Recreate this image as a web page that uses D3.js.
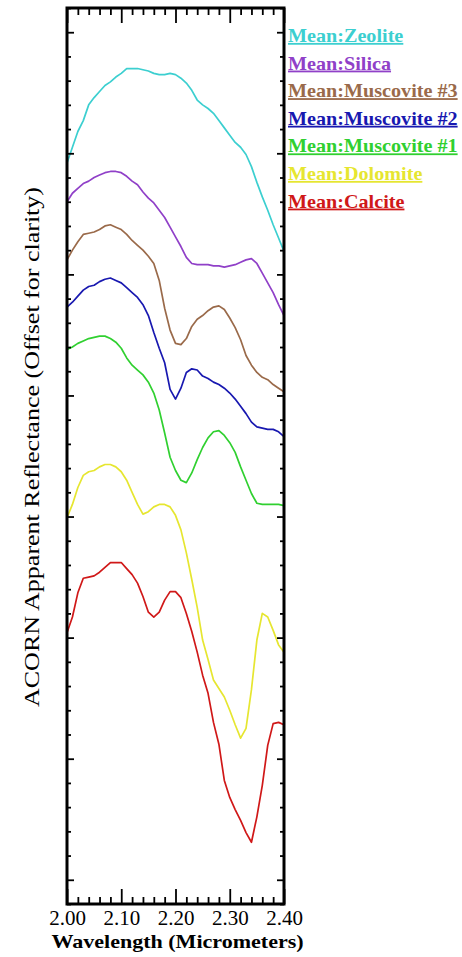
<!DOCTYPE html>
<html>
<head>
<meta charset="utf-8">
<script src="https://cdn.jsdelivr.net/npm/d3@7"></script>
<style>
  html, body { margin: 0; padding: 0; background: #fff; }
  svg { display: block; }
</style>
</head>
<body>
<svg id="chart" width="462" height="957"></svg>
<script>
// ---------------- data ----------------
const wavelengths = [2.00, 2.01, 2.02, 2.03, 2.04, 2.05, 2.06, 2.07, 2.08, 2.09,
  2.10, 2.11, 2.12, 2.13, 2.14, 2.15, 2.16, 2.17, 2.18, 2.19,
  2.20, 2.21, 2.22, 2.23, 2.24, 2.25, 2.26, 2.27, 2.28, 2.29,
  2.30, 2.31, 2.32, 2.33, 2.34, 2.35, 2.36, 2.37, 2.38, 2.39, 2.40];

const seriesNames = ["Mean:Zeolite", "Mean:Silica", "Mean:Muscovite #3", "Mean:Muscovite #2",
  "Mean:Muscovite #1", "Mean:Dolomite", "Mean:Calcite"];
const seriesColors = ["#3ccfd0", "#9040c8", "#9a6a4a", "#1818b0", "#30d030", "#e6e630", "#d01818"];

// apparent reflectance (offset for clarity), percent
const zeolite = [59.2, 60.5, 61.8, 62.7, 64.0, 64.6, 65.1, 65.6, 65.9, 66.3,
  66.6, 67.0, 67.0, 67.0, 66.9, 66.8, 66.6, 66.5, 66.5, 66.6,
  66.5, 66.2, 65.8, 65.2, 64.4, 64.0, 63.7, 63.3, 62.7, 62.1,
  61.5, 60.9, 60.5, 59.9, 58.9, 57.6, 56.4, 55.3, 54.1, 53.0, 51.9];
const silica = [56.0, 56.7, 57.1, 57.5, 57.7, 58.0, 58.2, 58.4, 58.5, 58.5,
  58.4, 58.1, 57.7, 57.4, 56.8, 56.3, 55.9, 55.3, 54.7, 53.9,
  53.1, 52.3, 51.4, 50.9, 50.8, 50.8, 50.8, 50.7, 50.7, 50.6,
  50.7, 50.8, 51.0, 51.2, 51.3, 50.9, 50.1, 49.3, 48.5, 47.5, 46.6];
const muscovite3 = [51.2, 52.0, 52.7, 53.3, 53.4, 53.5, 53.7, 54.0, 54.1, 53.9,
  53.7, 53.3, 52.8, 52.4, 52.0, 51.5, 50.9, 49.5, 47.2, 45.4,
  44.3, 44.2, 44.7, 45.7, 46.3, 46.6, 47.0, 47.3, 47.4, 47.1,
  46.4, 45.6, 44.6, 43.3, 42.5, 41.9, 41.5, 41.3, 40.9, 40.6, 40.3];
const muscovite2 = [47.3, 47.7, 48.2, 48.7, 49.0, 49.1, 49.4, 49.6, 49.7, 49.5,
  49.3, 48.9, 48.5, 48.1, 47.5, 46.6, 45.2, 43.9, 42.7, 40.5,
  39.7, 40.6, 41.9, 42.2, 42.1, 41.6, 41.4, 41.1, 40.9, 40.6,
  40.2, 39.7, 39.1, 38.5, 37.8, 37.4, 37.3, 37.2, 37.2, 37.0, 36.6];
const muscovite1 = [43.8, 44.0, 44.3, 44.5, 44.7, 44.8, 44.9, 44.9, 44.7, 44.4,
  43.9, 43.1, 42.5, 42.1, 41.7, 41.1, 40.2, 38.8, 36.9, 34.9,
  33.8, 33.0, 32.8, 33.6, 34.7, 35.7, 36.5, 37.0, 37.1, 36.7,
  36.1, 35.3, 34.1, 33.0, 31.9, 31.1, 31.0, 31.0, 31.0, 31.0, 30.9];
const dolomite = [29.9, 31.0, 32.4, 33.4, 33.7, 33.8, 34.1, 34.3, 34.3, 34.1,
  33.7, 33.0, 32.0, 31.0, 30.2, 30.4, 30.8, 31.0, 31.0, 30.8,
  30.1, 28.9, 27.0, 24.8, 22.5, 19.8, 18.2, 16.5, 15.8, 15.1,
  14.0, 12.8, 11.7, 12.5, 15.7, 19.8, 22.0, 21.7, 20.6, 19.4, 18.8];
const calcite = [20.4, 21.7, 23.7, 24.9, 25.0, 25.1, 25.4, 25.8, 26.2, 26.2,
  26.2, 25.7, 25.2, 24.5, 23.4, 22.1, 21.7, 22.1, 23.1, 23.8,
  23.8, 23.3, 22.0, 20.5, 18.8, 16.9, 15.4, 13.0, 11.2, 8.2,
  6.8, 5.8, 4.9, 3.9, 3.1, 5.2, 7.8, 11.1, 12.9, 13.0, 12.8];

const xMajorTicks = [2.00, 2.10, 2.20, 2.30, 2.40];
const xMajorLabels = ["2.00", "2.10", "2.20", "2.30", "2.40"];
const xMinorTicks = [2.02, 2.04, 2.06, 2.08, 2.12, 2.14, 2.16, 2.18, 2.22, 2.24, 2.26, 2.28,
  2.32, 2.34, 2.36, 2.38];
const yMajorTicks = [0, 10, 20, 30, 40, 50, 60, 70];
const yMinorTicks = [-2, 2, 4, 6, 8, 12, 14, 16, 18, 22, 24, 26, 28, 32, 34, 36, 38,
  42, 44, 46, 48, 52, 54, 56, 58, 62, 64, 66, 68, 72];

const seriesValues = [zeolite, silica, muscovite3, muscovite2, muscovite1, dolomite, calcite];

// ---------------- layout ----------------
const svg = d3.select("#chart");
const plot = { left: 67, right: 284, top: 8, bottom: 904 };
const serif = "'Liberation Serif', 'Times New Roman', serif";

const x = d3.scaleLinear().domain([2.0, 2.4]).range([plot.left, plot.right]);
const y = d3.scaleLinear().domain([-2, 72]).range([plot.bottom, plot.top]);

svg.append("rect").attr("width", 462).attr("height", 957).attr("fill", "#fff");

// curves
const line = d3.line()
  .x((d, i) => x(wavelengths[i]))
  .y(d => y(d));

svg.append("g").selectAll("path")
  .data(seriesValues)
  .join("path")
  .attr("d", d => line(d))
  .attr("fill", "none")
  .attr("stroke", (d, i) => seriesColors[i])
  .attr("stroke-width", 1.7)
  .attr("stroke-linejoin", "round");

// axes (ticks pointing inward)
function styleAxis(g) {
  g.select(".domain").remove();
  g.selectAll(".tick line").attr("stroke", "#000").attr("stroke-width", 1.8);
}

svg.append("g")
  .attr("transform", `translate(0,${plot.bottom})`)
  .call(d3.axisBottom(x).tickValues(xMajorTicks).tickFormat((d, i) => xMajorLabels[i])
    .tickSize(-15).tickPadding(6))
  .call(styleAxis)
  .call(g => g.selectAll("text")
    .attr("font-family", serif).attr("font-size", 21).attr("fill", "#000"));

svg.append("g")
  .attr("transform", `translate(0,${plot.bottom})`)
  .call(d3.axisBottom(x).tickValues(xMinorTicks).tickFormat("").tickSize(-7))
  .call(styleAxis);

svg.append("g")
  .attr("transform", `translate(0,${plot.top})`)
  .call(d3.axisTop(x).tickValues(xMajorTicks).tickFormat("").tickSize(-15))
  .call(styleAxis);

svg.append("g")
  .attr("transform", `translate(0,${plot.top})`)
  .call(d3.axisTop(x).tickValues(xMinorTicks).tickFormat("").tickSize(-7))
  .call(styleAxis);

svg.append("g")
  .attr("transform", `translate(${plot.left},0)`)
  .call(d3.axisLeft(y).tickValues(yMajorTicks).tickFormat("").tickSize(-7))
  .call(styleAxis);

svg.append("g")
  .attr("transform", `translate(${plot.left},0)`)
  .call(d3.axisLeft(y).tickValues(yMinorTicks).tickFormat("").tickSize(-4))
  .call(styleAxis);

svg.append("g")
  .attr("transform", `translate(${plot.right},0)`)
  .call(d3.axisRight(y).tickValues(yMajorTicks).tickFormat("").tickSize(-7))
  .call(styleAxis);

svg.append("g")
  .attr("transform", `translate(${plot.right},0)`)
  .call(d3.axisRight(y).tickValues(yMinorTicks).tickFormat("").tickSize(-4))
  .call(styleAxis);

// frame
svg.append("rect")
  .attr("x", plot.left).attr("y", plot.top)
  .attr("width", plot.right - plot.left).attr("height", plot.bottom - plot.top)
  .attr("fill", "none").attr("stroke", "#000").attr("stroke-width", 3);

// axis titles
svg.append("text")
  .attr("transform", `translate(${(plot.left + plot.right) / 2 + 2},948) scale(1.16,1)`)
  .attr("text-anchor", "middle")
  .attr("font-family", serif).attr("font-size", 19).attr("font-weight", "bold")
  .attr("fill", "#000")
  .text("Wavelength (Micrometers)");

svg.append("text")
  .attr("transform", "translate(39,447) rotate(-90)")
  .attr("text-anchor", "middle")
  .attr("font-family", serif).attr("font-size", 22)
  .attr("textLength", 520).attr("lengthAdjust", "spacingAndGlyphs")
  .attr("fill", "#000")
  .text("ACORN Apparent Reflectance (Offset for clarity)");

// legend
svg.append("g")
  .attr("transform", "translate(288,0) scale(1.12,1)")
  .selectAll("text")
  .data(seriesNames)
  .join("text")
  .attr("x", 0)
  .attr("y", (d, i) => 42 + i * 27.6)
  .attr("font-family", serif).attr("font-size", 18).attr("font-weight", "bold")
  .attr("fill", (d, i) => seriesColors[i])
  .style("text-decoration", "underline")
  .text(d => d);
</script>
</body>
</html>
